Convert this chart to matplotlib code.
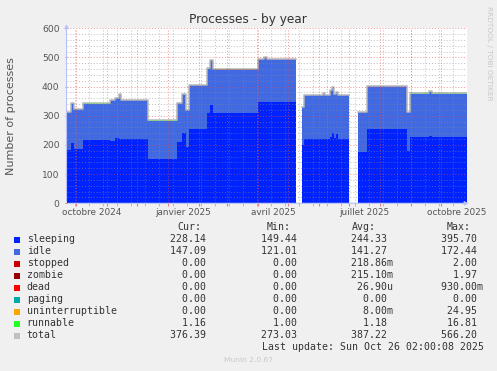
import numpy as np
import matplotlib
matplotlib.use('Agg')
import matplotlib.pyplot as plt
from matplotlib.patches import Rectangle
from datetime import datetime, timedelta

W, H = 497, 371
start = datetime(2024, 9, 21, 2, 0)

#%% data (breakpoints, days after start; nan = no data)
day = [0, 4, 7, 16, 43, 48, 52, 54, 63, 81, 110, 115, 119, 122, 140, 143, 146, 191, 197, 200, 229,
       235, 237, 256, 258, 263, 265, 267, 269, 271, 282,
       291, 300, 340, 343, 362, 365, 400]
sleeping = [184, 207, 186, 216, 214, 225, 222, 220, 222, 153, 210, 241, 193, 256, 310, 336, 309, 346, 348, 346, np.nan,
            199, 222, 222, 222, 228, 241, 225, 236, 222, np.nan,
            176, 254, 180, 227, 231, 227, 227]
idle = [129, 136, 136, 126, 139, 135, 151, 133, 131, 130, 133, 133, 126, 149, 152, 154, 149, 148, 152, 148, np.nan,
        131, 148, 156, 148, 160, 158, 150, 146, 148, np.nan,
        137, 147, 133, 149, 152, 149, 149]
zombie = [0, 0, 0, 0, 0, 0, 0, 0, 0, 0, 0, 0, 0, 0, 0, 0, 1.97, 0, 0, 0, np.nan,
          0, 0, 0, 0, 0, 0, 0, 0, 0, np.nan,
          0, 0, 0, 0, 0, 0, 0]
runnable = [1.2] * len(day)

names = ['sleeping', 'idle', 'stopped', 'zombie', 'dead', 'paging', 'uninterruptible', 'runnable', 'total']
colors = ['#0022ff', '#4169e1', '#cc0000', '#990000', '#ff0000', '#00aaaa', '#ffa500', '#22ff22', '#c0c0c0']
cur = [228.14, 147.09, 0, 0, 0, 0, 0, 1.16, 376.39]
vmin = [149.44, 121.01, 0, 0, 0, 0, 0, 1.00, 273.03]
vavg = [244.33, 141.27, 0.21886, 0.21510, 26.90e-6, 0, 0.008, 1.18, 387.22]
vmax = [395.70, 172.44, 2.00, 1.97, 0.93, 0, 24.95, 16.81, 566.20]

label_months = ['octobre 2024', 'janvier 2025', 'avril 2025', 'juillet 2025', 'octobre 2025']
label_dates = [datetime(2024, 10, 16), datetime(2025, 1, 16), datetime(2025, 4, 16),
               datetime(2025, 7, 16), datetime(2025, 10, 16)]

#%% helpers
def step(d, v):
    d = np.asarray(d, float)
    v = np.asarray(v, float)
    return np.repeat(d, 2)[1:], np.repeat(v, 2)[:-1]

def off(dt):
    return (dt - start).total_seconds() / 86400

def fmt(v):
    if v == 0:
        return '%7.2f ' % 0
    if abs(v) < 1e-3:
        return '%7.2fu' % (v * 1e6)
    if abs(v) < 1:
        return '%7.2fm' % (v * 1e3)
    return '%7.2f ' % v

#%% plot
fig = plt.figure(figsize=(W / 100, H / 100), dpi=100, facecolor='#f0f0f0')
ax = fig.add_axes([66.5 / W, 1 - 203.3 / H, 400 / W, 175 / H])
ax.set_facecolor('white')
ax.set_xlim(0, 400)
ax.set_ylim(0, 600)
for s in ax.spines.values():
    s.set_visible(False)

zeros = [0] * len(day)
layers = [sleeping, idle, zeros, zombie, zeros, zeros, zeros, runnable]
base = np.zeros(len(day))
for vals, c in zip(layers, colors[:8]):
    top = base + np.asarray(vals, float)
    x, y0 = step(day, base)
    _, y1 = step(day, top)
    ax.fill_between(x, y0, y1, color=c, lw=0, zorder=2)
    base = top
x, yt = step(day, base)
ax.plot(x, yt, color='#b8b8b8', lw=1.1, zorder=3)

# grid
minor_col = (0.55, 0.55, 0.55, 0.55)
major_col = (0.9, 0.3, 0.3, 0.6)
for v in range(20, 601, 20):
    c = major_col if v % 100 == 0 else minor_col
    ax.axhline(v, color=c, lw=0.7, ls=(0, (1, 2)), zorder=4)
months = [off(datetime(2024 + (9 + i) // 12, (9 + i) % 12 + 1, 1)) for i in range(13)]
weeks = [off(datetime(2024, 9, 30) + timedelta(days=14 * i)) for i in range(29)]
for d in weeks:
    if 0 < d < 400:
        ax.axvline(d, color=minor_col, lw=0.7, ls=(0, (1, 2)), zorder=4)
for d in months:
    if 0 < d < 400:
        ax.axvline(d, color=major_col, lw=0.7, ls=(0, (1, 2)), zorder=4)

ax.set_xticks([d for d in months if 0 < d < 400])
ax.set_xticks([d for d in weeks if 0 < d < 400], minor=True)
ax.tick_params(axis='x', which='major', length=2, color='#e08080', labelbottom=False)
ax.tick_params(axis='x', which='minor', length=2, color='#b0b0b0')
ax.set_yticks(range(0, 601, 100))
ax.set_yticklabels([str(v) for v in range(0, 601, 100)])
ax.tick_params(axis='y', length=1.5, color='#e08080', pad=3.5, labelsize=6.6, labelcolor='#555555')

for lab, dt in zip(label_months, label_dates):
    ax.text(off(dt), -9.5 / 175 * 600, lab, ha='center', va='center', fontsize=6.4,
            color='#555555', clip_on=False)

# axes with arrows
axis_col = '#b8c0f8'
ax.annotate('', xy=(405, 0), xytext=(-1, 0), annotation_clip=False,
            arrowprops=dict(arrowstyle='-|>', color=axis_col, lw=0.8, mutation_scale=6), zorder=6)
ax.annotate('', xy=(0, 624), xytext=(0, -2), annotation_clip=False,
            arrowprops=dict(arrowstyle='-|>', color=axis_col, lw=0.8, mutation_scale=6), zorder=6)

#%% texts
fig.text(248 / W, 1 - 19 / H, 'Processes - by year', ha='center', va='center', fontsize=8.7, color='#333333')
fig.text(11 / W, 1 - 116 / H, 'Number of processes', rotation=90, ha='center', va='center',
         fontsize=8, color='#555555')
fig.text(489 / W, 1 - 53 / H, 'RRDTOOL / TOBI OETIKER', rotation=270, ha='center', va='center',
         fontsize=5.3, color='#c8c8c8')

mono = dict(family='DejaVu Sans Mono', fontsize=7.1, color='#333333', va='center')
for lab, xl in zip(['Cur:', 'Min:', 'Avg:', 'Max:'], [177, 267, 352, 447]):
    fig.text(xl / W, 1 - 227.3 / H, lab, **mono)
col_left = [164.1, 255.1, 345.1, 435.1]
for i, name in enumerate(names):
    yc = 239.5 + 12 * i
    fig.patches.append(Rectangle((14 / W, 1 - (yc + 3) / H), 6 / W, 6 / H, transform=fig.transFigure,
                                 facecolor=colors[i], edgecolor='none'))
    fig.text(26.7 / W, 1 - yc / H, name, **mono)
    for xl, v in zip(col_left, [cur[i], vmin[i], vavg[i], vmax[i]]):
        fig.text(xl / W, 1 - yc / H, fmt(v), **mono)
fig.text(261.7 / W, 1 - 347.4 / H, 'Last update: Sun Oct 26 02:00:08 2025', **mono)
fig.text(248 / W, 1 - 359.5 / H, 'Munin 2.0.67', ha='center', va='center', fontsize=5.4, color='#c8c8c8')

fig.savefig('out.png', dpi=100, facecolor=fig.get_facecolor())
